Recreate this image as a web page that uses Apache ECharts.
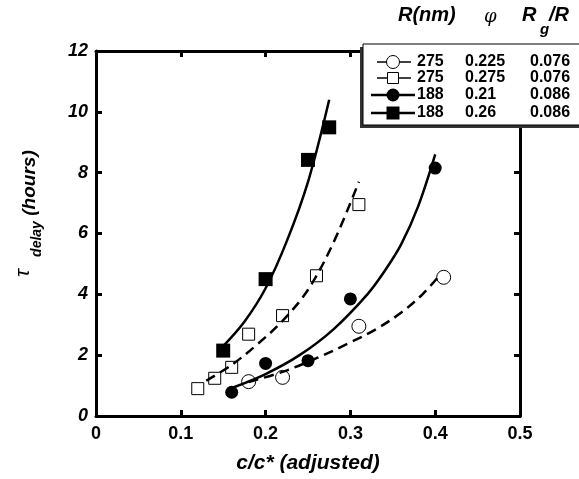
<!DOCTYPE html>
<html>
<head>
<meta charset="utf-8">
<script src="https://cdn.jsdelivr.net/npm/echarts@6/dist/echarts.min.js"></script>
<style>
  html, body { margin: 0; padding: 0; background: #fff; }
  #chart { width: 579px; height: 479px; }
</style>
</head>
<body>
<div id="chart"></div>
<script>
// measured points (c/c*, tau in hours)
const openCircleX = [0.18, 0.22, 0.31, 0.41];
const openCircleY = [1.13, 1.27, 2.95, 4.56];
const openSquareX = [0.12, 0.14, 0.16, 0.18, 0.22, 0.26, 0.31];
const openSquareY = [0.90, 1.24, 1.60, 2.69, 3.30, 4.61, 6.95];
const fillCircleX = [0.16, 0.2, 0.25, 0.3, 0.4];
const fillCircleY = [0.78, 1.73, 1.82, 3.85, 8.15];
const fillSquareX = [0.15, 0.2, 0.25, 0.275];
const fillSquareY = [2.15, 4.5, 8.42, 9.49];

// fitted curves
const fitOpenCircleX = [0.18, 0.22, 0.26, 0.3, 0.33, 0.36, 0.385, 0.405];
const fitOpenCircleY = [1.12, 1.45, 1.9, 2.42, 2.85, 3.4, 4.0, 4.62];
const fitOpenSquareX = [0.13, 0.16, 0.19, 0.22, 0.25, 0.28, 0.31];
const fitOpenSquareY = [1.16, 1.68, 2.35, 3.13, 4.15, 5.7, 7.7];
const fitFillCircleX = [0.16, 0.2, 0.24, 0.28, 0.32, 0.34, 0.36, 0.38, 0.4];
const fitFillCircleY = [0.92, 1.38, 2.0, 2.85, 4.0, 4.75, 5.65, 6.9, 8.6];
const fitFillSquareX = [0.15, 0.175, 0.2, 0.225, 0.25, 0.275];
const fitFillSquareY = [2.3, 3.1, 4.2, 5.75, 7.7, 10.4];

// legend table
const legendR = ['275', '275', '188', '188'];
const legendPhi = ['0.225', '0.275', '0.21', '0.26'];
const legendRg = ['0.076', '0.076', '0.086', '0.086'];

const FONT = '"Liberation Sans", Arial, Helvetica, sans-serif';
const pairs = (xs, ys) => xs.map((x, i) => [x, ys[i]]);

const chart = echarts.init(document.getElementById('chart'));

function fitSeries(xs, ys, dashed) {
    return {
        type: 'line',
        data: pairs(xs, ys),
        smooth: 0.35,
        showSymbol: false,
        symbol: 'none',
        z: 3,
        lineStyle: { color: '#000', width: 2.5, type: dashed ? [10, 6] : 'solid' }
    };
}

function markSeries(xs, ys, symbol, size, filled) {
    return {
        type: 'scatter',
        data: pairs(xs, ys),
        symbol: symbol,
        symbolSize: size,
        z: 2,
        itemStyle: filled
            ? { color: '#000', borderWidth: 0, opacity: 1 }
            : { color: 'rgba(0,0,0,0)', borderColor: '#000', borderWidth: 1, opacity: 1 }
    };
}

// legend drawn as a small table
const rowY = [62, 78, 95, 113];
const legendSymbols = [
    { kind: 'circle', filled: false },
    { kind: 'rect', filled: false },
    { kind: 'circle', filled: true },
    { kind: 'rect', filled: true }
];
const legendEls = [
    { type: 'rect', shape: { x: 360, y: 47, width: 260, height: 81 }, style: { fill: '#333' }, z: 10 },
    { type: 'rect', shape: { x: 363, y: 44, width: 260, height: 81 }, style: { fill: '#fff', stroke: '#000', lineWidth: 1 }, z: 11 }
];
legendSymbols.forEach((s, i) => {
    const y = rowY[i];
    legendEls.push({
        type: 'line', z: 12,
        shape: s.filled ? { x1: 371, y1: y, x2: 415, y2: y } : { x1: 377, y1: y, x2: 411, y2: y },
        style: { stroke: '#000', lineWidth: s.filled ? 2.5 : 1.5 }
    });
    const style = s.filled ? { fill: '#000' } : { fill: '#fff', stroke: '#000', lineWidth: 1 };
    if (s.kind === 'circle') {
        legendEls.push({ type: 'circle', z: 13, shape: { cx: 393, cy: y, r: 6.5 }, style: style });
    } else {
        const h = s.filled ? 13 : 11;
        legendEls.push({ type: 'rect', z: 13, shape: { x: 393 - h / 2, y: y - h / 2, width: h, height: h }, style: style });
    }
    [[legendR[i], 417], [legendPhi[i], 465], [legendRg[i], 530]].forEach(([t, x]) => {
        legendEls.push({
            type: 'text', z: 13, x: x, y: y,
            style: { text: t, font: 'bold 16px ' + FONT, fill: '#000', align: 'left', verticalAlign: 'middle' }
        });
    });
});

// header above legend
const headerEls = [
    { type: 'text', x: 398, y: 15, style: { text: 'R(nm)', font: 'italic bold 20px ' + FONT, fill: '#000', verticalAlign: 'middle' } },
    { type: 'text', x: 484, y: 17, style: { text: 'φ', font: 'italic 18px "DejaVu Serif", serif', fill: '#000', verticalAlign: 'middle' } },
    { type: 'text', x: 522, y: 15, style: { text: 'R', font: 'italic bold 20px ' + FONT, fill: '#000', verticalAlign: 'middle' } },
    { type: 'text', x: 540, y: 30, style: { text: 'g', font: 'italic bold 15px ' + FONT, fill: '#000', verticalAlign: 'middle' } },
    { type: 'text', x: 549, y: 15, style: { text: '/R', font: 'italic bold 20px ' + FONT, fill: '#000', verticalAlign: 'middle' } }
];

// y axis title: tau_delay (hours)
const yTitleEls = [
    { type: 'text', x: 23, y: 273, rotation: Math.PI / 2, style: { text: 'τ', font: 'italic 21px ' + FONT, fill: '#000', align: 'center', verticalAlign: 'middle' } },
    { type: 'text', x: 37, y: 239, rotation: Math.PI / 2, style: { text: 'delay', font: 'italic bold 14px ' + FONT, fill: '#000', align: 'center', verticalAlign: 'middle' } },
    { type: 'text', x: 30, y: 183, rotation: Math.PI / 2, style: { text: '(hours)', font: 'italic bold 19px ' + FONT, fill: '#000', align: 'center', verticalAlign: 'middle' } }
];

const axisLine = { show: true, onZero: false, lineStyle: { color: '#000', width: 3 } };
const axisTick = { show: true, inside: true, length: 6, lineStyle: { color: '#000', width: 3 } };

const option = {
    animation: false,
    backgroundColor: '#fff',
    grid: { left: 96, right: 59, top: 51, bottom: 62 },
    xAxis: [
        {
            type: 'value', position: 'bottom', min: 0, max: 0.5, interval: 0.1,
            axisLine: axisLine, axisTick: axisTick, splitLine: { show: false },
            axisLabel: {
                margin: 9, color: '#000', fontFamily: FONT, fontWeight: 'bold', fontSize: 18,
                formatter: v => (v === 0 ? '0' : v.toFixed(1))
            },
            name: 'c/c* (adjusted)', nameLocation: 'middle', nameGap: 37,
            nameTextStyle: { color: '#000', fontFamily: FONT, fontWeight: 'bold', fontStyle: 'italic', fontSize: 21 }
        },
        {
            type: 'value', position: 'top', min: 0, max: 0.5, interval: 0.1,
            axisLine: axisLine, axisTick: axisTick, splitLine: { show: false },
            axisLabel: { show: false }
        }
    ],
    yAxis: [
        {
            type: 'value', position: 'left', min: 0, max: 12, interval: 2,
            axisLine: axisLine, axisTick: axisTick, splitLine: { show: false },
            axisLabel: {
                margin: 8, color: '#000', fontFamily: FONT, fontWeight: 'bold', fontStyle: 'italic', fontSize: 18
            }
        },
        {
            type: 'value', position: 'right', min: 0, max: 12, interval: 2,
            axisLine: axisLine, axisTick: axisTick, splitLine: { show: false },
            axisLabel: { show: false }
        }
    ],
    graphic: [].concat(legendEls, headerEls, yTitleEls),
    series: [
        markSeries(openCircleX, openCircleY, 'circle', 14, false),
        markSeries(openSquareX, openSquareY, 'rect', 12, false),
        markSeries(fillCircleX, fillCircleY, 'circle', 13, true),
        markSeries(fillSquareX, fillSquareY, 'rect', 14, true),
        fitSeries(fitOpenCircleX, fitOpenCircleY, true),
        fitSeries(fitOpenSquareX, fitOpenSquareY, true),
        fitSeries(fitFillCircleX, fitFillCircleY, false),
        fitSeries(fitFillSquareX, fitFillSquareY, false)
    ]
};

chart.setOption(option);
</script>
</body>
</html>
